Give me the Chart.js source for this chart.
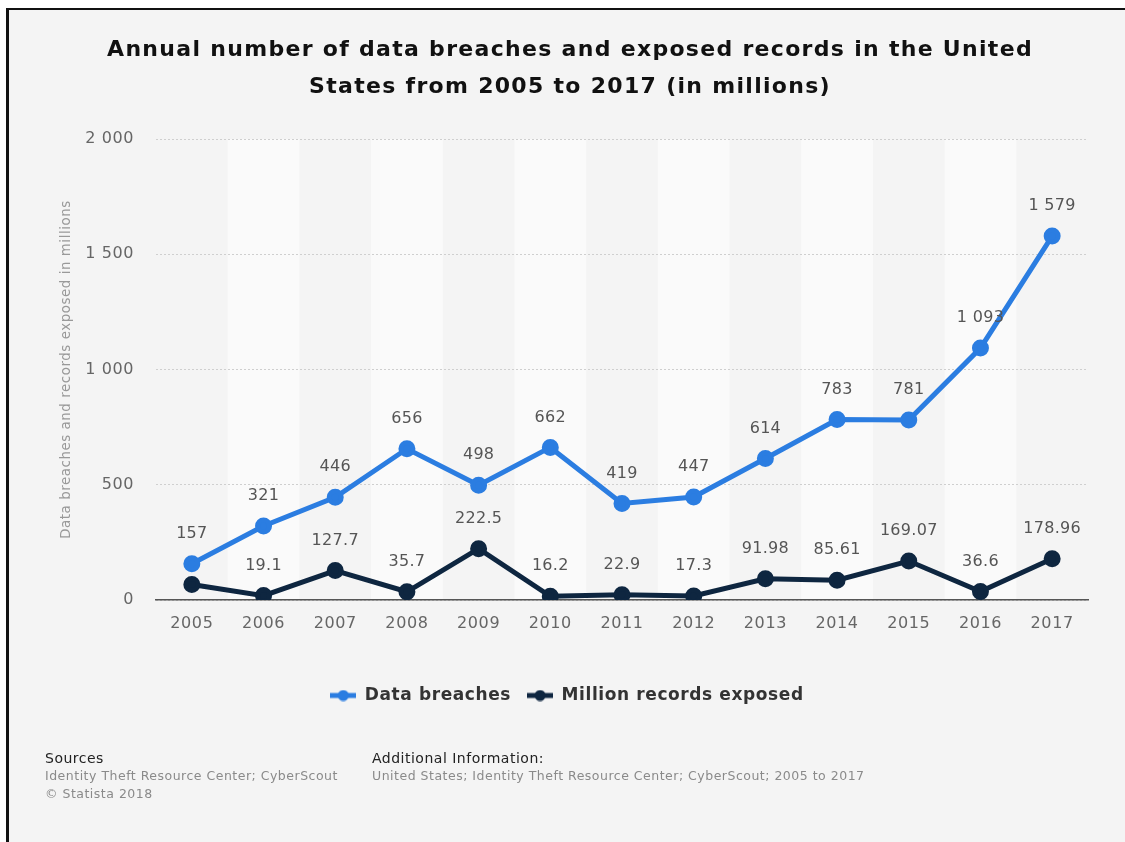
<!DOCTYPE html>
<html>
<head>
<meta charset="utf-8">
<script src="https://cdn.jsdelivr.net/npm/chart.js@4.4.0/dist/chart.umd.min.js"></script>
<style>
	body { margin: 0; background: #fff; }
	#frame {
		position: absolute; left: 6px; top: 8px;
		width: 1116px; height: 832px;
		border-left: 3px solid #111; border-top: 2px solid #111;
		background: #f4f4f4;
	}
	canvas { display: block; }
</style>
</head>
<body>
<div id="frame"><canvas id="chart" width="1116" height="832" style="width:1116px;height:832px"></canvas></div>
<script>
const years = ["2005", "2006", "2007", "2008", "2009", "2010", "2011", "2012", "2013", "2014", "2015", "2016", "2017"];
const breaches = [157, 321, 446, 656, 498, 662, 419, 447, 614, 783, 781, 1093, 1579];
const records = [66.9, 19.1, 127.7, 35.7, 222.5, 16.2, 22.9, 17.3, 91.98, 85.61, 169.07, 36.6, 178.96];
const recordLabels = ["", "19.1", "127.7", "35.7", "222.5", "16.2", "22.9", "17.3", "91.98", "85.61", "169.07", "36.6", "178.96"];
const yTicks = [0, 500, 1000, 1500, 2000];

const BLUE = "#2b7de1";
const NAVY = "#0e2640";
const FONT = "'DejaVu Sans', sans-serif";

// thousands with a space, like "1 093"
const fmt = (v) => String(v).replace(/\B(?=(\d{3})+(?!\d))/g, " ");

// legend marker: a short line with a dot on it
const makeMarker = (color) => {
	const c = document.createElement("canvas");
	c.width = 26; c.height = 12;
	const g = c.getContext("2d");
	g.strokeStyle = color; g.lineWidth = 5;
	g.beginPath(); g.moveTo(0, 6); g.lineTo(26, 6); g.stroke();
	g.fillStyle = color;
	g.beginPath(); g.arc(13, 6, 5.5, 0, Math.PI * 2); g.fill();
	return c;
};

const decor = {
	id: "decor",
	// the source renders text a bit wider, so space the letters out
	beforeUpdate(chart) { chart.ctx.letterSpacing = "0.6px"; },
	beforeLayout(chart) { chart.ctx.letterSpacing = "0.6px"; },
	beforeDraw(chart) {
		const { ctx, chartArea: a, scales: { x } } = chart;
		ctx.letterSpacing = "0.6px";
		const w = (a.right - a.left) / years.length;
		ctx.save();
		ctx.fillStyle = "#fafafa";
		years.forEach((_, i) => {
			if (i % 2 === 1) {
				const cx = x.getPixelForValue(i);
				ctx.fillRect(cx - w / 2, a.top, w, a.bottom - a.top);
			}
		});
		ctx.restore();
	},
	afterDatasetsDraw(chart) {
		const { ctx } = chart;
		ctx.save();
		ctx.letterSpacing = "0.3px";
		ctx.font = "16px " + FONT;
		ctx.fillStyle = "#555";
		ctx.textAlign = "center";
		ctx.textBaseline = "middle";
		chart.getDatasetMeta(0).data.forEach((p, i) => {
			ctx.fillText(fmt(breaches[i]), p.x, p.y - 30);
		});
		chart.getDatasetMeta(1).data.forEach((p, i) => {
			if (recordLabels[i]) ctx.fillText(recordLabels[i], p.x, p.y - 30);
		});
		ctx.restore();
	},
	afterDraw(chart) {
		const { ctx } = chart;
		ctx.save();
		ctx.textBaseline = "middle";
		ctx.textAlign = "center";
		ctx.fillStyle = "#111";
		ctx.letterSpacing = "1.3px";
		ctx.font = "bold 22px " + FONT;
		ctx.fillText("Annual number of data breaches and exposed records in the United", 561, 40);
		ctx.fillText("States from 2005 to 2017 (in millions)", 561, 77);

		ctx.textAlign = "left";
		ctx.letterSpacing = "0.5px";
		ctx.fillStyle = "#222";
		ctx.font = "14px " + FONT;
		ctx.fillText("Sources", 36, 749);
		ctx.fillText("Additional Information:", 363, 749);
		ctx.fillStyle = "#8a8a8a";
		ctx.font = "12.5px " + FONT;
		ctx.fillText("Identity Theft Resource Center; CyberScout", 36, 767);
		ctx.fillText("\u00a9 Statista 2018", 36, 785);
		ctx.fillText("United States; Identity Theft Resource Center; CyberScout; 2005 to 2017", 363, 767);
		ctx.restore();
	},
};

const ctx = document.getElementById("chart").getContext("2d");
new Chart(ctx, {
	type: "line",
	data: {
		labels: years,
		datasets: [
			{
				label: "Data breaches",
				data: breaches,
				borderColor: BLUE,
				backgroundColor: BLUE,
				borderWidth: 5,
				pointRadius: 6,
				pointHoverRadius: 6,
				tension: 0,
			},
			{
				label: "Million records exposed",
				data: records,
				borderColor: NAVY,
				backgroundColor: NAVY,
				borderWidth: 5,
				pointRadius: 6,
				pointHoverRadius: 6,
				tension: 0,
			},
		],
	},
	options: {
		responsive: false,
		animation: false,
		layout: { padding: { top: 129, right: 0, left: 0, bottom: 128 } },
		scales: {
			x: {
				offset: true,
				grid: { display: false },
				border: { display: true, color: "#555", width: 1.5 },
				ticks: { color: "#666", font: { family: FONT, size: 16 }, padding: 6 },
				afterFit: (s) => { s.height = 71; },
			},
			y: {
				min: 0,
				max: 2000,
				afterBuildTicks: (s) => { s.ticks = yTicks.map((v) => ({ value: v })); },
				grid: { color: "#cfcfcf", lineWidth: 1, drawTicks: false },
				border: { display: false, dash: [2, 2] },
				ticks: {
					color: "#666",
					font: { family: FONT, size: 16 },
					padding: 22,
					callback: (v) => fmt(v),
				},
				title: {
					display: true,
					text: "Data breaches and records exposed in millions",
					color: "#999",
					font: { family: FONT, size: 13.3 },
					padding: { top: 50, bottom: 0 },
				},
				afterFit: (s) => { s.width = 147; },
			},
			// empty right-hand margin, so the legend stays centred on the page
			spacer: {
				position: "right",
				grid: { display: false },
				border: { display: false },
				ticks: { display: false },
				afterFit: (s) => { s.width = 37; },
			},
		},
		plugins: {
			tooltip: { enabled: false },
			legend: {
				position: "bottom",
				labels: {
					color: "#333",
					font: { family: FONT, size: 17, weight: "bold" },
					usePointStyle: true,
					pointStyleWidth: 26,
					boxHeight: 12,
					padding: 16,
					generateLabels: (chart) => chart.data.datasets.map((d, i) => ({
						text: d.label,
						fillStyle: d.borderColor,
						strokeStyle: d.borderColor,
						lineWidth: 0,
						pointStyle: makeMarker(d.borderColor),
						hidden: false,
						datasetIndex: i,
						fontColor: "#333",
					})),
				},
			},
		},
	},
	plugins: [decor],
});
</script>
</body>
</html>
